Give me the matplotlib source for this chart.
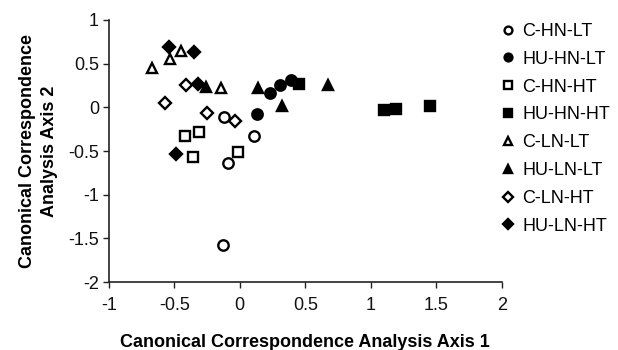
import matplotlib.pyplot as plt

plt.rcParams['font.family'] = ['Liberation Sans', 'DejaVu Sans']

# =========================
# DATA
# =========================

groups = ['C-HN-LT', 'HU-HN-LT', 'C-HN-HT', 'HU-HN-HT',
          'C-LN-LT', 'HU-LN-LT', 'C-LN-HT', 'HU-LN-HT']

axis1 = {
    'C-HN-LT': [-0.12, 0.11, -0.09, -0.13],
    'HU-HN-LT': [0.13, 0.23, 0.31, 0.39],
    'C-HN-HT': [-0.42, -0.31, -0.36, -0.01],
    'HU-HN-HT': [0.45, 1.10, 1.19, 1.45],
    'C-LN-LT': [-0.67, -0.53, -0.45, -0.14],
    'HU-LN-LT': [-0.26, 0.14, 0.32, 0.67],
    'C-LN-HT': [-0.57, -0.41, -0.25, -0.04],
    'HU-LN-HT': [-0.54, -0.35, -0.32, -0.49],
}

axis2 = {
    'C-HN-LT': [-0.11, -0.33, -0.64, -1.57],
    'HU-HN-LT': [-0.08, 0.16, 0.25, 0.31],
    'C-HN-HT': [-0.33, -0.28, -0.57, -0.51],
    'HU-HN-HT': [0.27, -0.03, -0.02, 0.01],
    'C-LN-LT': [0.45, 0.55, 0.64, 0.22],
    'HU-LN-LT': [0.23, 0.22, 0.01, 0.25],
    'C-LN-HT': [0.05, 0.25, -0.06, -0.16],
    'HU-LN-HT': [0.69, 0.63, 0.27, -0.53],
}

xticks = [-1, -0.5, 0, 0.5, 1, 1.5, 2]
yticks = [-2, -1.5, -1, -0.5, 0, 0.5, 1]

markers = {'HN-LT': 'o', 'HN-HT': 's', 'LN-LT': '^', 'LN-HT': 'D'}

# =========================
# PLOT
# =========================

fig = plt.figure(figsize=(6.18, 3.5), dpi=100)
ax = fig.add_axes([0.176, 0.194, 0.636, 0.749])

for g in groups:
    key = g.split('-', 1)[1]
    filled = g.startswith('HU')
    m = markers[key]
    ms = 7.5 if m != 'D' else 6.2
    ax.plot(axis1[g], axis2[g], linestyle='none', marker=m, markersize=ms,
            markerfacecolor='black' if filled else 'white',
            markeredgecolor='black', markeredgewidth=1.7, label=g)

ax.set_xlim(-1, 2)
ax.set_ylim(-2, 1)
ax.set_xticks(xticks)
ax.set_xticklabels([f'{t:g}' for t in xticks])
ax.set_yticks(yticks)
ax.set_yticklabels([f'{t:g}' for t in yticks])

for s in ['top', 'right']:
    ax.spines[s].set_visible(False)
for s in ['left', 'bottom']:
    ax.spines[s].set_linewidth(1.2)
    ax.spines[s].set_color('#222222')

ax.tick_params(direction='out', length=4, width=1, labelsize=13,
               colors='#222222', labelcolor='#111111')
ax.tick_params(axis='x', pad=7)
ax.tick_params(axis='y', pad=3)

ax.set_xlabel('Canonical Correspondence Analysis Axis 1',
              fontsize=13, fontweight='bold', labelpad=14)
ax.set_ylabel('Canonical Correspondence\nAnalysis Axis 2',
              fontsize=13, fontweight='bold', labelpad=7, linespacing=1.45)

ax.legend(loc='upper left', bbox_to_anchor=(0.796, 0.955),
          bbox_transform=fig.transFigure, frameon=False, borderaxespad=0,
          fontsize=13, handletextpad=0.28, labelspacing=0.6,
          handlelength=1.0, markerscale=0.75)

fig.savefig('out.png', dpi=100)
